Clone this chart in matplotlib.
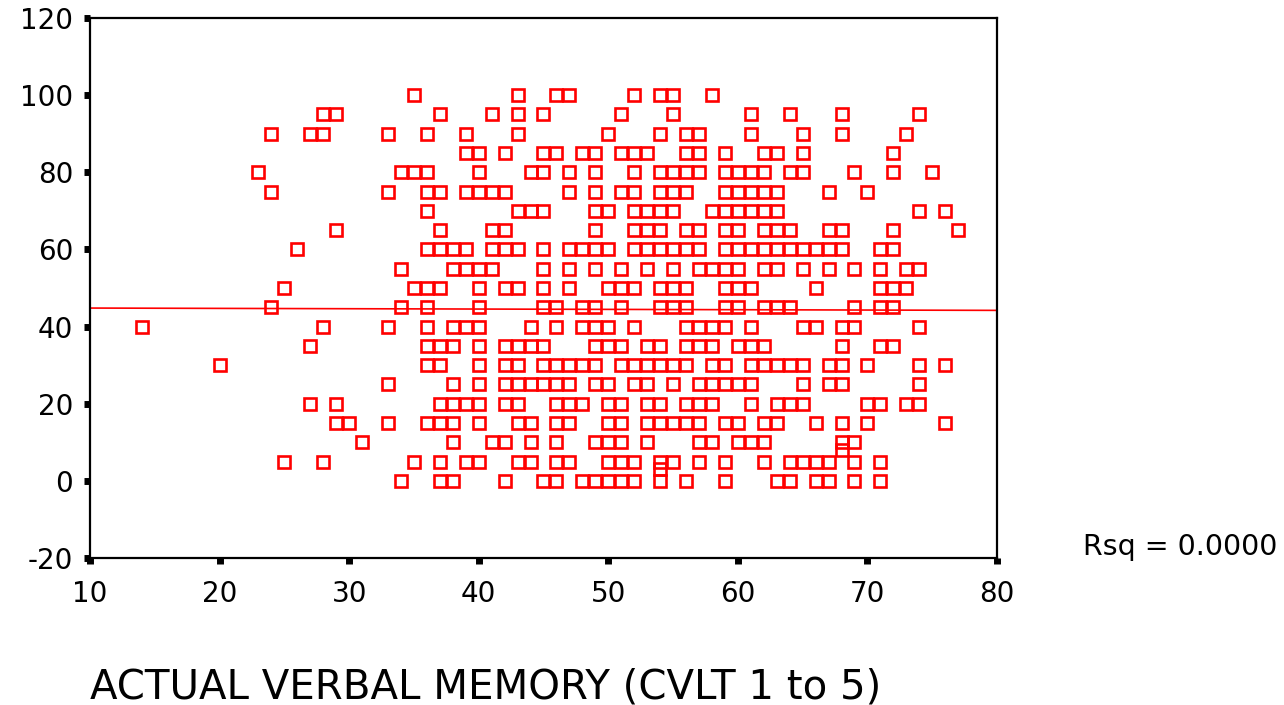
import matplotlib
matplotlib.use("Agg")
import matplotlib.pyplot as plt
import numpy as np

plt.rcParams["font.family"] = ["DejaVu Sans"]
plt.rcParams["axes.unicode_minus"] = False

# actual verbal memory (CVLT 1 to 5) values, one list per score level
x_at_100 = [35, 43, 46, 47, 52, 54, 55, 58]
x_at_95 = [28, 29, 37, 41, 43, 45, 51, 55, 61, 64, 68, 74]
x_at_90 = [24, 27, 28, 33, 36, 39, 43, 50, 54, 56, 57, 61, 65, 68, 73]
x_at_85 = [39, 40, 42, 45, 46, 48, 49, 51, 52, 53, 56, 57, 59, 62, 63, 65, 72]
x_at_80 = [23, 34, 35, 36, 40, 44, 45, 47, 49, 52, 54, 55, 56, 57, 59, 60,
           61, 62, 64, 65, 69, 72, 75]
x_at_75 = [24, 33, 36, 37, 39, 40, 41, 42, 47, 49, 51, 52, 54, 55, 56, 59,
           60, 61, 62, 63, 67, 70]
x_at_70 = [36, 43, 44, 45, 49, 50, 52, 53, 54, 55, 58, 59, 60, 61, 62, 63,
           74, 76]
x_at_65 = [29, 37, 41, 42, 49, 52, 53, 54, 56, 57, 59, 60, 62, 63, 64, 67,
           68, 72, 77]
x_at_60 = [26, 36, 37, 38, 39, 41, 42, 43, 45, 47, 48, 49, 50, 52, 53, 54,
           55, 56, 57, 59, 60, 61, 62, 63, 64, 65, 66, 67, 68, 71, 72]
x_at_55 = [34, 38, 39, 40, 41, 45, 47, 49, 51, 53, 55, 57, 58, 59, 60, 62,
           63, 65, 67, 69, 71, 73, 74]
x_at_50 = [25, 35, 36, 37, 40, 42, 43, 45, 47, 50, 51, 52, 54, 55, 56, 59,
           60, 61, 66, 71, 72, 73]
x_at_45 = [24, 34, 36, 40, 45, 46, 48, 49, 51, 54, 55, 56, 59, 60, 62, 63,
           64, 69, 71, 72]
x_at_40 = [14, 28, 33, 36, 38, 39, 40, 44, 46, 48, 49, 50, 52, 56, 57, 58,
           59, 61, 65, 66, 68, 69, 74]
x_at_35 = [27, 36, 37, 38, 40, 42, 43, 44, 45, 49, 50, 51, 53, 54, 56, 57,
           58, 60, 61, 62, 68, 71, 72]
x_at_30 = [20, 36, 37, 40, 42, 43, 45, 46, 47, 48, 49, 51, 52, 53, 54, 55,
           56, 58, 59, 61, 62, 63, 64, 65, 67, 68, 70, 74, 76]
x_at_25 = [33, 38, 40, 42, 43, 44, 45, 46, 47, 49, 50, 52, 53, 55, 57, 58,
           59, 60, 61, 65, 67, 68, 74]
x_at_20 = [27, 29, 37, 38, 39, 40, 42, 43, 46, 47, 48, 50, 51, 53, 54, 56,
           57, 58, 61, 63, 64, 65, 70, 71, 73, 74]
x_at_15 = [29, 30, 33, 36, 37, 38, 40, 43, 44, 46, 47, 50, 51, 53, 54, 55,
           56, 57, 59, 60, 62, 63, 66, 68, 70, 76]
x_at_10 = [31, 38, 41, 42, 44, 46, 49, 50, 51, 53, 57, 58, 60, 61, 62, 68, 69]
x_at_8 = [68]
x_at_5 = [25, 28, 35, 37, 39, 40, 43, 44, 46, 47, 50, 51, 52, 54, 55, 57,
          59, 62, 64, 65, 66, 67, 69, 71]
x_at_3 = [54]
x_at_0 = [34, 37, 38, 42, 45, 46, 48, 49, 50, 51, 52, 54, 56, 59, 63, 64,
          66, 67, 69, 71]

score_levels = [100, 95, 90, 85, 80, 75, 70, 65, 60, 55, 50, 45, 40, 35, 30,
                25, 20, 15, 10, 8, 5, 3, 0]
rows = [x_at_100, x_at_95, x_at_90, x_at_85, x_at_80, x_at_75, x_at_70,
        x_at_65, x_at_60, x_at_55, x_at_50, x_at_45, x_at_40, x_at_35,
        x_at_30, x_at_25, x_at_20, x_at_15, x_at_10, x_at_8, x_at_5,
        x_at_3, x_at_0]

# fit line (overlapping cases are hidden in the scatter)
fit_x = [10, 80]
fit_y = [44.8, 44.2]

xticks = [10, 20, 30, 40, 50, 60, 70, 80]
yticks = [-20, 0, 20, 40, 60, 80, 100, 120]

memory = np.concatenate([np.array(r, dtype=float) for r in rows])
score = np.concatenate([np.full(len(r), lv, dtype=float)
                        for r, lv in zip(rows, score_levels)])

fig = plt.figure(figsize=(12.84, 7.05), dpi=100)
ax = fig.add_axes([90 / 1284, 1 - 558 / 705, 907 / 1284, 540 / 705])

ax.plot(memory, score, linestyle="none", marker="s", markersize=8.4,
        markerfacecolor="none", markeredgecolor="#ff0000",
        markeredgewidth=1.9, zorder=3)
ax.plot(fit_x, fit_y, color="#ff0000", lw=1.2, zorder=2)

ax.set_xlim(10, 80)
ax.set_ylim(-20, 120)
ax.set_xticks(xticks)
ax.set_yticks(yticks)
ax.tick_params(direction="out", length=4, width=5, color="black",
               labelsize=20, pad=8)
ax.tick_params(axis="x", pad=12)
for sp in ax.spines.values():
    sp.set_linewidth(1.6)

fig.text(90 / 1284, 1 - 687 / 705, "ACTUAL VERBAL MEMORY (CVLT 1 to 5)",
         fontsize=29, ha="left", va="center")
fig.text(1083 / 1284, 1 - 547 / 705, "Rsq = 0.0000",
         fontsize=20.5, ha="left", va="center")

fig.savefig("out.png", dpi=100, facecolor="white")
